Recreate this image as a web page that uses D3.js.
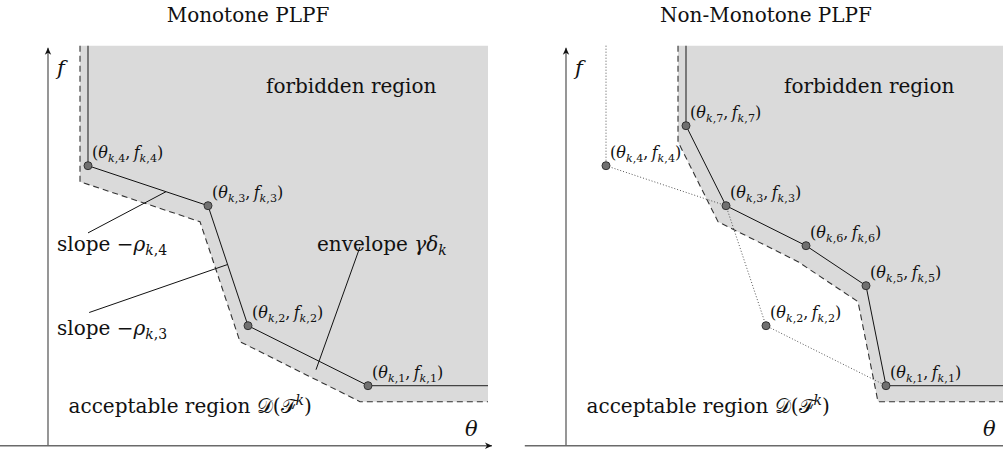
<!DOCTYPE html>
<html><head><meta charset="utf-8">
<script src="https://cdn.jsdelivr.net/npm/d3@7"></script>
<style>
html,body{margin:0;padding:0;background:#fff;}
svg{display:block;}
text{font-family:"DejaVu Serif",serif;fill:#111;}
</style></head><body>
<svg id="chart" width="1003" height="451"></svg>
<script>
// Breakpoints (theta, f) of the monotone PLPF, ids k,1 .. k,4
const monoIds = [1, 2, 3, 4];
const monoTheta = [8, 5, 4, 1];
const monoF = [1, 2.5, 5.5, 6.5];
// Breakpoints of the non-monotone PLPF, ids k,1 .. k,7
const nonIds = [1, 2, 3, 4, 5, 6, 7];
const nonTheta = [8, 5, 4, 1, 7.5, 6, 3];
const nonF = [1, 2.5, 5.5, 6.5, 3.5, 4.5, 7.5];
// Order in which the breakpoints are joined
const monoSolidOrder = [4, 3, 2, 1];
const nonSolidOrder = [7, 3, 6, 5, 1];
const nonDottedOrder = [4, 3, 2, 1];
// Envelope offset gamma*delta_k along theta and f
const envelopeShift = [0.2, 0.4];
const titles = ["Monotone PLPF", "Non-Monotone PLPF"];
const thetaDomain = [0, 11];
const fDomain = [0, 9.5];
const fAxisLevel = -0.5;

const svg = d3.select("#chart");
const defs = svg.append("defs");
defs.append("marker")
  .attr("id", "arrow").attr("viewBox", "-8 -4 9 8")
  .attr("refX", 0).attr("refY", 0)
  .attr("markerWidth", 9).attr("markerHeight", 8)
  .attr("markerUnits", "userSpaceOnUse").attr("orient", "auto")
  .append("path").attr("d", "M0,0 L-7,-3.2 L-5,0 L-7,3.2 Z").attr("fill", "#111");

// Rich text: parts are [string, kind]; kind letters: i=italic, b=subscript, p=superscript
function rich(g, x, y, parts, size) {
  const t = g.append("text").attr("x", x).attr("y", y).attr("font-size", size);
  let shift = 0;
  parts.forEach(([s, kind]) => {
    const sub = kind.includes("b"), sup = kind.includes("p"), it = kind.includes("i");
    const target = sub ? size * 0.22 : sup ? -size * 0.36 : 0;
    t.append("tspan")
      .attr("dy", target - shift)
      .attr("font-size", (sub || sup) ? size * 0.7 : size)
      .attr("font-style", it ? "italic" : "normal")
      .text(s);
    shift = target;
  });
  return t;
}

function pointLabel(n) {
  return [["(", ""], ["θ", "i"], ["k", "bi"], ["," + n, "b"], [",\u2009", ""],
          ["f", "i"], ["k", "bi"], ["," + n, "b"], [")", ""]];
}

function drawPanel(cfg) {
  const g = svg.append("g");
  const x = d3.scaleLinear().domain(thetaDomain).range([cfg.left, cfg.left + 440]);
  const y = d3.scaleLinear().domain(fDomain).range([425.7, 45.7]);
  const pts = new Map(cfg.ids.map((id, i) => [id, [cfg.theta[i], cfg.f[i]]]));
  const path = cfg.solid.map(id => pts.get(id));
  const top = path[0], last = path[path.length - 1];
  const [s0, s1] = envelopeShift;
  const shifted = path.map(([a, b]) => [a - s0, b - s1]);
  const line = d3.line().x(d => x(d[0])).y(d => y(d[1]));
  const tMax = thetaDomain[1], fMax = fDomain[1];

  // forbidden region: everything above the shifted envelope
  const region = [[top[0] - s0, fMax], ...shifted, [tMax, last[1] - s1], [tMax, fMax]];
  g.append("path").attr("d", line(region) + "Z").attr("fill", "#dadada");

  // dotted original function
  if (cfg.dotted) {
    const dp = cfg.dotted.map(id => pts.get(id));
    g.append("path").attr("d", line([[dp[0][0], fMax], ...dp]))
      .attr("fill", "none").attr("stroke", "#555").attr("stroke-width", 1)
      .attr("stroke-dasharray", "1,2");
  }

  // dashed envelope
  g.append("path").attr("d", line([[top[0] - s0, fMax], ...shifted, [tMax, last[1] - s1]]))
    .attr("fill", "none").attr("stroke", "#333").attr("stroke-width", 1.1)
    .attr("stroke-dasharray", "6,4");

  // solid function with its vertical and horizontal extensions
  g.append("path").attr("d", line([[top[0], fMax], top]))
    .attr("fill", "none").attr("stroke", "#444").attr("stroke-width", 1.3);
  g.append("path").attr("d", line([last, [tMax, last[1]]]))
    .attr("fill", "none").attr("stroke", "#444").attr("stroke-width", 1.3);
  g.append("path").attr("d", line(path))
    .attr("fill", "none").attr("stroke", "#111").attr("stroke-width", 1);

  // leader lines to annotated segments
  (cfg.leaders || []).forEach(ld => {
    const a = pts.get(ld.seg[0]), b = pts.get(ld.seg[1]);
    let end = [a[0] + (b[0] - a[0]) * ld.t, a[1] + (b[1] - a[1]) * ld.t];
    if (ld.band) end = [end[0] - s0 / 2, end[1] - s1 / 2];
    g.append("line")
      .attr("x1", x(ld.from[0])).attr("y1", y(ld.from[1]))
      .attr("x2", x(end[0])).attr("y2", y(end[1]))
      .attr("stroke", "#111").attr("stroke-width", 1);
  });

  // axes
  g.append("line")
    .attr("x1", x(cfg.axisStart)).attr("y1", y(fAxisLevel))
    .attr("x2", x(11.1)).attr("y2", y(fAxisLevel))
    .attr("stroke", "#6a6a6a").attr("stroke-width", 1.4).attr("marker-end", "url(#arrow)");
  g.append("line")
    .attr("x1", x(0)).attr("y1", y(fAxisLevel))
    .attr("x2", x(0)).attr("y2", y(9.45))
    .attr("stroke", "#6a6a6a").attr("stroke-width", 1.4).attr("marker-end", "url(#arrow)");

  // breakpoints and their labels
  cfg.ids.forEach((id, i) => {
    const px = x(cfg.theta[i]), py = y(cfg.f[i]);
    g.append("circle").attr("cx", px).attr("cy", py).attr("r", 4)
      .attr("fill", "#707070").attr("stroke", "#333").attr("stroke-width", 1);
    rich(g, px + 4, py - 7.5, pointLabel(id), 16);
  });

  // text
  g.append("text").attr("x", x(5)).attr("y", 22).attr("text-anchor", "middle")
    .attr("font-size", 20).text(cfg.title);
  g.append("text").attr("x", x(0) + 218).attr("y", 92.5).attr("font-size", 20)
    .text("forbidden region");
  rich(g, x(0) + 20.5, 412.5,
    [["acceptable region ", ""], ["𝒟", ""], ["(", ""], ["ℱ", ""], ["k", "pi"], [")", ""]], 20);
  g.append("text").attr("x", x(0) + 9).attr("y", 75).attr("font-size", 21)
    .attr("font-style", "italic").text("f");
  g.append("text").attr("x", x(0) + 417).attr("y", 436).attr("font-size", 21)
    .attr("font-style", "italic").text("θ");
  (cfg.notes || []).forEach(nt => rich(g, nt.at[0], nt.at[1], nt.parts, 20));
}

drawPanel({
  left: 48, axisStart: -1.25, title: titles[0],
  ids: monoIds, theta: monoTheta, f: monoF, solid: monoSolidOrder,
  leaders: [
    { from: [1.0, 4.82], seg: [4, 3], t: 0.65 },
    { from: [1.03, 2.83], seg: [3, 2], t: 0.49 },
    { from: [7.8, 4.47], seg: [2, 1], t: 0.6, band: true }
  ],
  notes: [
    { at: [57, 251], parts: [["slope ", ""], ["−", ""], ["ρ", "i"], ["k", "bi"], [",4", "b"]] },
    { at: [57, 335], parts: [["slope ", ""], ["−", ""], ["ρ", "i"], ["k", "bi"], [",3", "b"]] },
    { at: [317, 251], parts: [["envelope ", ""], ["γδ", "i"], ["k", "bi"]] }
  ]
});

drawPanel({
  left: 566, axisStart: -1.03, title: titles[1],
  ids: nonIds, theta: nonTheta, f: nonF, solid: nonSolidOrder, dotted: nonDottedOrder
});
</script>
</body></html>
